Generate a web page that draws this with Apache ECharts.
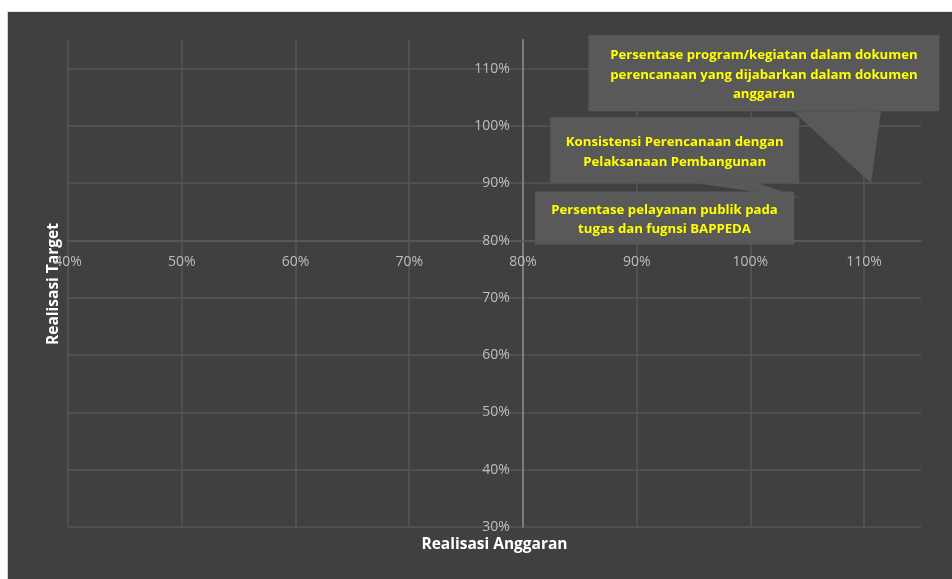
<!DOCTYPE html>
<html>
<head>
<meta charset="utf-8">
<script src="https://cdn.jsdelivr.net/npm/echarts@6/dist/echarts.min.js"></script>
<style>
  html, body { margin: 0; padding: 0; background: #ffffff; }
  #chart {
    position: absolute; left: 7px; top: 11px; width: 945px; height: 568px;
    border-left: 1px solid #d4d4d4; border-top: 1px solid #e4e4e4; box-sizing: border-box;
  }
</style>
</head>
<body>
<div id="chart"></div>
<script>
// Indicator names (one callout per point)
const indicators = [
  'Persentase program/kegiatan dalam dokumen\nperencanaan yang dijabarkan dalam dokumen\nanggaran',
  'Konsistensi Perencanaan dengan\nPelaksanaan Pembangunan',
  'Persentase pelayanan publik pada\ntugas dan fugnsi BAPPEDA'
];
// Budget realisation (x) and target realisation (y), as fractions
const realisasiAnggaran = [1.106, 1.046, 0.95];
const realisasiTarget   = [0.90, 0.874, 0.85];

// Axis ranges and tick step
const xRange = [0.4, 1.15];
const yRange = [0.3, 1.15];
const tickStep = 0.1;
const crossValue = 0.8;   // both axes cross at 80%

// Callout box layout: centre offset from the point and box size (px)
const calloutOffset = [[-107, -110], [-128, -48], [-29, 6]];
const calloutSize   = [[351, 76], [249, 66], [259, 53]];

const FONT = '"Open Sans", "Noto Sans", sans-serif';
const pct = v => Math.round(v * 100) + '%';
const onStep = v => Math.abs(v / tickStep - Math.round(v / tickStep)) < 1e-6;

const chart = echarts.init(document.getElementById('chart'));

// Rectangular callout with a wedge pointing at the data point
function renderCallout(params, api) {
  const i = params.dataIndex;
  const pt = api.coord([api.value(0), api.value(1)]);
  const [w, h] = calloutSize[i];
  const cx = pt[0] + calloutOffset[i][0];
  const cy = pt[1] + calloutOffset[i][1];
  const x0 = cx - w / 2, y0 = cy - h / 2;
  const children = [];
  const inside = pt[0] >= x0 && pt[0] <= x0 + w && pt[1] >= y0 && pt[1] <= y0 + h;
  if (!inside) {
    const dx = (pt[0] - cx) / w, dy = (pt[1] - cy) / h;
    let a, b;
    if (Math.abs(dy) >= Math.abs(dx)) {
      const ey = dy > 0 ? y0 + h : y0;
      const f = dx > 0 ? [7 / 12, 10 / 12] : [2 / 12, 5 / 12];
      a = [x0 + w * f[0], ey]; b = [x0 + w * f[1], ey];
    } else {
      const ex = dx > 0 ? x0 + w : x0;
      const f = dy > 0 ? [7 / 12, 10 / 12] : [2 / 12, 5 / 12];
      a = [ex, y0 + h * f[0]]; b = [ex, y0 + h * f[1]];
    }
    children.push({ type: 'polygon', shape: { points: [a, b, pt] }, style: { fill: '#595959' } });
  }
  children.push({ type: 'rect', shape: { x: x0, y: y0, width: w, height: h }, style: { fill: '#595959' } });
  children.push({
    type: 'text',
    style: {
      text: indicators[i], x: cx, y: cy + 2, align: 'center', verticalAlign: 'middle',
      fill: '#ffff00', font: 'bold 13.2px ' + FONT, lineHeight: 19.5
    }
  });
  return { type: 'group', children };
}

const option = {
  backgroundColor: '#404040',
  animation: false,
  grid: { left: 60, top: 28, right: 31, bottom: 52, containLabel: false },
  xAxis: {
    type: 'value', min: xRange[0], max: xRange[1], interval: tickStep,
    axisLine: { show: true, lineStyle: { color: '#5a5a5a', width: 1.5 } },
    axisTick: { show: false },
    axisLabel: {
      color: '#bdbdbd', fontSize: 14, fontFamily: FONT, margin: 14,
      formatter: v => onStep(v) ? pct(v) : '', showMaxLabel: false
    },
    splitLine: { show: true, showMaxLine: false, lineStyle: { color: '#565656', width: 1.5 } }
  },
  yAxis: {
    type: 'value', min: yRange[0], max: yRange[1], interval: tickStep,
    axisLine: { show: true, lineStyle: { color: '#7d7d7d', width: 2 } },
    axisTick: { show: false },
    axisLabel: {
      color: '#bdbdbd', fontSize: 14, fontFamily: FONT, margin: 13,
      verticalAlign: 'middle', lineHeight: 18, padding: [3, 0, 0, 0],
      formatter: v => onStep(v) ? pct(v) : '', showMaxLabel: false
    },
    splitLine: { show: true, showMaxLine: false, lineStyle: { color: '#565656', width: 1.5 } }
  },
  series: [{
    type: 'custom',
    renderItem: renderCallout,
    data: realisasiAnggaran.map((x, i) => [x, realisasiTarget[i]]),
    clip: false
  }],
  graphic: [
    {
      type: 'text', x: 493.5 - 7, y: 544 - 11,
      style: { text: 'Realisasi Anggaran', fill: '#ffffff', font: 'bold 15.5px ' + FONT, align: 'center', verticalAlign: 'middle' }
    },
    {
      type: 'text', rotation: Math.PI / 2, x: 53 - 7, y: 283 - 11,
      style: { text: 'Realisasi Target', fill: '#ffffff', font: 'bold 15.5px ' + FONT, align: 'center', verticalAlign: 'middle' }
    }
  ]
};

chart.setOption(option);

// Move each axis so it crosses the other at the 80% value
const xCross = chart.convertToPixel({ xAxisIndex: 0 }, crossValue);
const xLeft = chart.convertToPixel({ xAxisIndex: 0 }, xRange[0]);
const yCross = chart.convertToPixel({ yAxisIndex: 0 }, crossValue);
const yBottom = chart.convertToPixel({ yAxisIndex: 0 }, yRange[0]);
chart.setOption({
  xAxis: { offset: -(yBottom - yCross) },
  yAxis: { offset: -(xCross - xLeft) }
});
</script>
</body>
</html>
